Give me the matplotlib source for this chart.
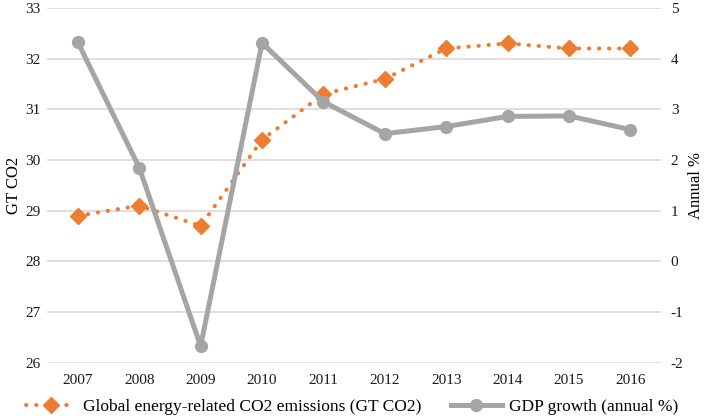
import matplotlib
matplotlib.use("Agg")
import matplotlib.pyplot as plt
from matplotlib.lines import Line2D

plt.rcParams['font.family'] = ['Liberation Serif', 'DejaVu Serif']
plt.rcParams['axes.unicode_minus'] = False

years = ['2007', '2008', '2009', '2010', '2011', '2012', '2013', '2014', '2015', '2016']
co2 = [28.9, 29.1, 28.7, 30.4, 31.3, 31.6, 32.2, 32.3, 32.2, 32.2]
gdp = [4.32, 1.85, -1.67, 4.31, 3.15, 2.52, 2.66, 2.86, 2.87, 2.60]

orange = '#ed7d31'
gray = '#a5a5a5'
grid_col = '#d9d9d9'
dots = (0, (0.1, 2.4))

fig = plt.figure(figsize=(7.04, 4.18), dpi=100)
ax1 = fig.add_axes([0.067, 0.132, 0.872, 0.849])
ax2 = ax1.twinx()

x = list(range(len(years)))

ax1.plot(x, co2, color=orange, linestyle=dots, linewidth=2.9,
         dash_capstyle='round', marker='D', markersize=8, zorder=3)
ax2.plot(x, gdp, color=gray, linewidth=3.6, marker='o', markersize=8.5, zorder=3)

ax1.set_ylim(26, 33)
ax2.set_ylim(-2, 5)
ax1.set_xlim(-0.5, len(years) - 0.5)
ax1.set_xticks(x)
ax1.set_xticklabels(years)
ax1.set_yticks(range(26, 34))
ax2.set_yticks(range(-2, 6))

ax1.grid(axis='y', color=grid_col, linewidth=1.2)
ax1.set_axisbelow(True)
for ax in (ax1, ax2):
    for s in ax.spines.values():
        s.set_visible(False)
    ax.tick_params(length=0, labelsize=11, colors='#1a1a1a')
ax1.tick_params(axis='x', pad=8)
ax1.tick_params(axis='y', pad=5)
ax2.tick_params(axis='y', pad=7)

ax1.set_ylabel('GT CO2', fontsize=12, labelpad=2)
ax2.set_ylabel('Annual %', fontsize=12, rotation=90, labelpad=3)

handles = [
    Line2D([0], [0], color=orange, linestyle=dots, linewidth=2.9,
           dash_capstyle='round', marker='D', markersize=8),
    Line2D([0], [0], color=gray, linewidth=3.6, marker='o', markersize=8.5),
]
labels = ['Global energy-related CO2 emissions (GT CO2)', 'GDP growth (annual %)']
fig.legend(handles, labels, loc='center', bbox_to_anchor=(0.5, 0.026), ncol=2,
           frameon=False, fontsize=12.5, handlelength=2.9, columnspacing=1.7,
           handletextpad=0.4, borderpad=0.2)

fig.savefig('out.png', dpi=100)
